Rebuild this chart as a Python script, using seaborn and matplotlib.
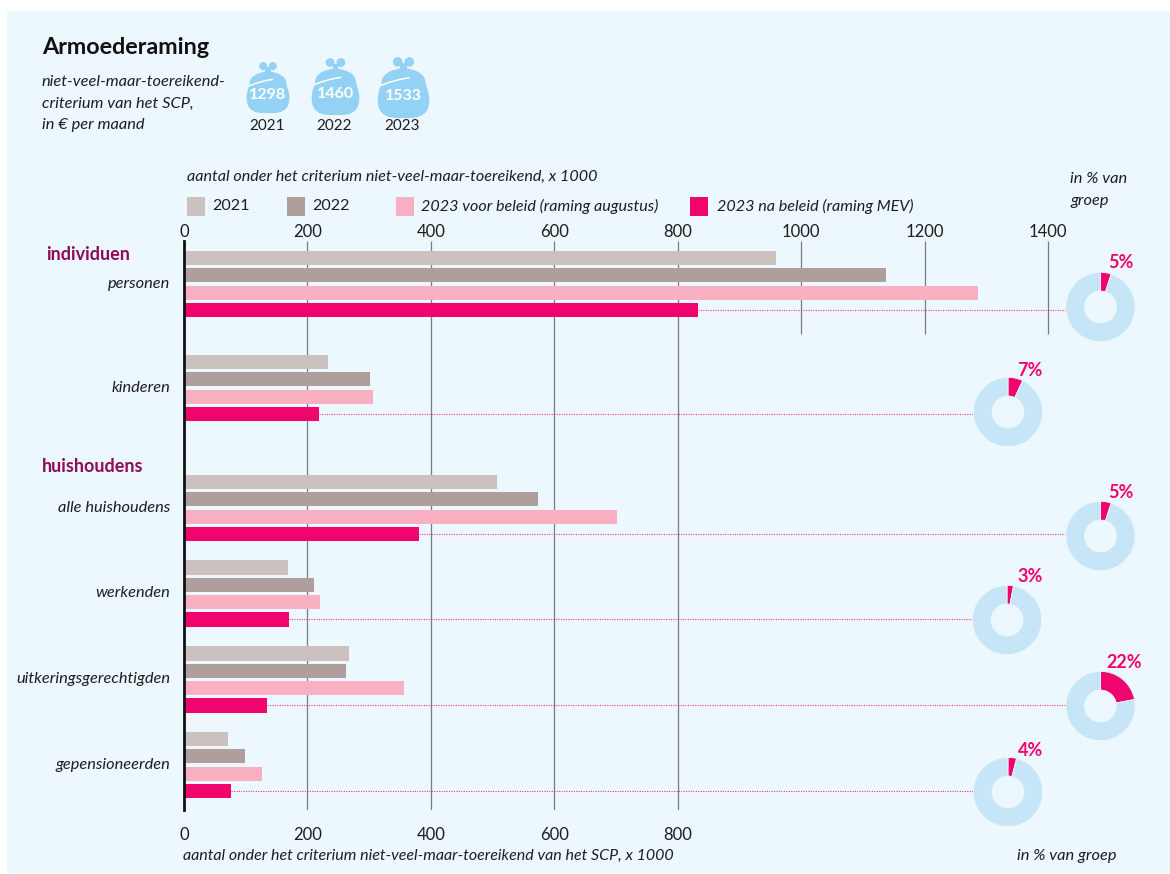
import numpy as np
import pandas as pd
import matplotlib
matplotlib.use("Agg")
import matplotlib.pyplot as plt
from matplotlib.patches import Rectangle, Circle, PathPatch, FancyBboxPatch
from matplotlib.path import Path
import seaborn as sns

# data
groepen = ["personen", "kinderen", "alle huishoudens", "werkenden",
           "uitkeringsgerechtigden", "gepensioneerden"]
series = ["2021", "2022", "2023 voor beleid (raming augustus)", "2023 na beleid (raming MEV)"]
w2021 = [959, 233, 507, 169, 267, 71]
w2022 = [1138, 301, 574, 211, 263, 99]
w2023_voor = [1287, 306, 702, 220, 356, 126]
w2023_na = [833, 219, 381, 170, 134, 76]
procent = [5, 7, 5, 3, 22, 4]
criterium = [1298, 1460, 1533]
criterium_jaar = ["2021", "2022", "2023"]

# layout in pixels of the 1170x874 picture
W, H = 1170, 874
group_pos = [284, 388, 508, 593.5, 679.5, 765]
donut_xy = [(1100.5, 307), (1008, 412), (1100.5, 536), (1007, 620), (1100.5, 706), (1008, 792)]
label_xy = [(1121, 263), (1030, 370), (1121, 493), (1030, 576), (1124, 663), (1031, 751)]
purse_box = [(246, 62, 290, 113), (311, 58, 360, 115), (377, 57, 430, 118)]
px_per_unit = 0.6171
x0_px = 184

kleuren = ["#CBC1BE", "#AE9F9C", "#F9B0C3", "#F0046E"]
bg = "#ECF7FE"
donut_blue = "#C6E6F8"
purse_blue = "#93D2F5"
tekst = "#1E1E1E"

sns.set_theme(style="white")
plt.rcParams["font.family"] = ["Lato", "DejaVu Sans"]

df = pd.DataFrame({"groep": group_pos, "2021": w2021, "2022": w2022,
                   series[2]: w2023_voor, series[3]: w2023_na})
df = df.melt(id_vars="groep", var_name="serie", value_name="aantal")

fig = plt.figure(figsize=(W / 100, H / 100), dpi=100, facecolor="white")
fig.add_artist(Rectangle((7 / W, 1 - 873 / H), (W - 7) / W, 862 / H, transform=fig.transFigure,
                         facecolor=bg, edgecolor="none", zorder=-5))


def px_rect(x1, y1, x2, y2):
    return [x1 / W, 1 - y2 / H, (x2 - x1) / W, (y2 - y1) / H]


ax = fig.add_axes(px_rect(x0_px, 241, 1060, 810))
ax.patch.set_alpha(0)
sns.barplot(data=df, x="aantal", y="groep", hue="serie", hue_order=series, orient="y",
            native_scale=True, palette=kleuren, width=0.81, gap=0.18, saturation=1,
            linewidth=0, edgecolor="none", legend=False, ax=ax)
ax.set_xlim(0, (1060 - x0_px) / px_per_unit)
ax.set_ylim(810, 241)
ax.set_xlabel("")
ax.set_ylabel("")

# gridlines
ax.vlines([200, 400, 600, 800], 241, 810, color="#7C7C7C", lw=0.9, zorder=0.5)
ax.vlines([1000, 1200, 1400], 241, 334, color="#7C7C7C", lw=0.9, zorder=0.5)

for s in ["top", "right", "bottom"]:
    ax.spines[s].set_visible(False)
ax.spines["left"].set_linewidth(2)
ax.spines["left"].set_color("#111111")

ax.set_xticks([0, 200, 400, 600, 800])
ax.tick_params(axis="x", length=0, pad=12, labelsize=12, labelcolor=tekst)
ax.set_yticks([g - 1.5 for g in group_pos], groepen, fontstyle="italic", fontsize=11.8)
ax.tick_params(axis="y", length=0, pad=10, labelcolor=tekst)

top = ax.secondary_xaxis("top")
top.set_xticks([0, 200, 400, 600, 800, 1000, 1200, 1400])
top.tick_params(axis="x", length=0, pad=1, labelsize=12, labelcolor=tekst)
top.spines["top"].set_visible(False)

# dotted leaders from the last bar to the donut
for i, bar in enumerate(ax.containers[3]):
    y = bar.get_y() + bar.get_height() / 2
    end = (donut_xy[i][0] - 35 - x0_px) / px_per_unit
    ax.plot([bar.get_width(), end], [y, y], color="#F0046E", lw=0.8, ls=(0, (1, 1.2)), alpha=0.8,
            zorder=3, clip_on=False)

# donuts
for i, p in enumerate(procent):
    cx, cy = donut_xy[i]
    dax = fig.add_axes(px_rect(cx - 35, cy - 35, cx + 35, cy + 35))
    dax.pie([p, 100 - p], colors=["#F0046E", donut_blue], startangle=90, counterclock=False,
            radius=1, wedgeprops={"width": 0.54, "edgecolor": bg, "linewidth": 0.6})
    dax.set_xlim(-1.01, 1.01)
    dax.set_ylim(-1.01, 1.01)

# overlay in picture pixels for the loose texts and purses
ov = fig.add_axes([0, 0, 1, 1], zorder=10)
ov.set_xlim(0, W)
ov.set_ylim(H, 0)
ov.axis("off")

for (x, y), p in zip(label_xy, procent):
    ov.text(x, y, f"{p}%", color="#F0046E", fontsize=13, fontweight="bold", ha="center", va="center")

ov.text(42, 47, "Armoederaming", fontsize=16.8, fontweight="bold", color="#111111", va="center")
for y, t in zip([82, 104, 125], ["niet-veel-maar-toereikend-", "criterium van het SCP,", "in € per maand"]):
    ov.text(42, y, t, fontsize=11.8, fontstyle="italic", color=tekst, va="center")


def purse(box, waarde, jaar):
    x1, y1, x2, y2 = box
    w, h = x2 - x1, y2 - y1
    cx = (x1 + x2) / 2
    # clasp
    for dx in (-0.11, 0.11):
        ov.add_patch(Circle((cx + dx * w, y1 + 0.08 * h), 0.09 * w, color=purse_blue, lw=0))
    ov.add_patch(Rectangle((cx - 0.06 * w, y1 + 0.1 * h), 0.12 * w, 0.12 * h, color=purse_blue, lw=0))
    # flap
    flap = [(x1 + 0.08 * w, y1 + 0.42 * h), (x1 + 0.1 * w, y1 + 0.22 * h), (cx, y1 + 0.18 * h),
            (x2 - 0.1 * w, y1 + 0.22 * h), (x2 - 0.08 * w, y1 + 0.42 * h), (x1 + 0.08 * w, y1 + 0.42 * h)]
    ov.add_patch(PathPatch(Path(flap, [Path.MOVETO, Path.CURVE3, Path.CURVE3, Path.CURVE3, Path.CURVE3,
                                       Path.LINETO]), facecolor=purse_blue, edgecolor="none"))
    # body
    verts = [(cx - 0.4 * w, y1 + 0.4 * h),
             (x1 - 0.06 * w, y1 + 0.72 * h), (x1 - 0.02 * w, y2), (cx - 0.12 * w, y2),
             (cx + 0.12 * w, y2),
             (x2 + 0.02 * w, y2), (x2 + 0.06 * w, y1 + 0.72 * h), (cx + 0.4 * w, y1 + 0.4 * h),
             (cx - 0.4 * w, y1 + 0.4 * h)]
    codes = [Path.MOVETO, Path.CURVE4, Path.CURVE4, Path.CURVE4,
             Path.LINETO,
             Path.CURVE4, Path.CURVE4, Path.CURVE4, Path.LINETO]
    ov.add_patch(PathPatch(Path(verts, codes), facecolor=purse_blue, edgecolor="none"))
    # highlight under the flap
    hl = [(x1 + 0.06 * w, y1 + 0.47 * h), (cx - 0.12 * w, y1 + 0.36 * h), (cx + 0.12 * w, y1 + 0.34 * h)]
    ov.add_patch(PathPatch(Path(hl, [Path.MOVETO, Path.CURVE3, Path.CURVE3]), facecolor="none",
                           edgecolor="white", lw=1.1))
    ov.text(cx, y1 + 0.64 * h, str(waarde), color="white", fontsize=11.5, fontweight="bold",
            ha="center", va="center")
    ov.text(cx - 1, 126, jaar, color=tekst, fontsize=11, ha="center", va="center")


for box, waarde, jaar in zip(purse_box, criterium, criterium_jaar):
    purse(box, waarde, jaar)

ov.text(187, 177, "aantal onder het criterium niet-veel-maar-toereikend, x 1000", fontsize=11.6,
        fontstyle="italic", color=tekst, va="center")
ov.text(1070, 179, "in % van", fontsize=11.8, fontstyle="italic", color=tekst, va="center")
ov.text(1070, 201, "groep", fontsize=11.8, fontstyle="italic", color=tekst, va="center")

# legend
for x, tx, k, s in zip([187, 287, 396, 690], [212, 312, 421, 717], kleuren, series):
    ov.add_patch(Rectangle((x, 197), 18, 19, facecolor=k, edgecolor="none"))
    ov.text(tx, 206, s, fontsize=11.65, color=tekst, va="center",
            fontstyle="italic" if "beleid" in s else "normal")

ov.text(46, 254, "individuen", fontsize=13, fontweight="bold", color="#8E0B56", va="center")
ov.text(42, 466, "huishoudens", fontsize=13, fontweight="bold", color="#8E0B56", va="center")

ov.text(183, 856, "aantal onder het criterium niet-veel-maar-toereikend van het SCP, x 1000", fontsize=11.55,
        fontstyle="italic", color=tekst, va="center")
ov.text(1017, 856, "in % van groep", fontsize=11.8, fontstyle="italic", color=tekst, va="center")

fig.savefig("out.png", dpi=100, facecolor="white")
